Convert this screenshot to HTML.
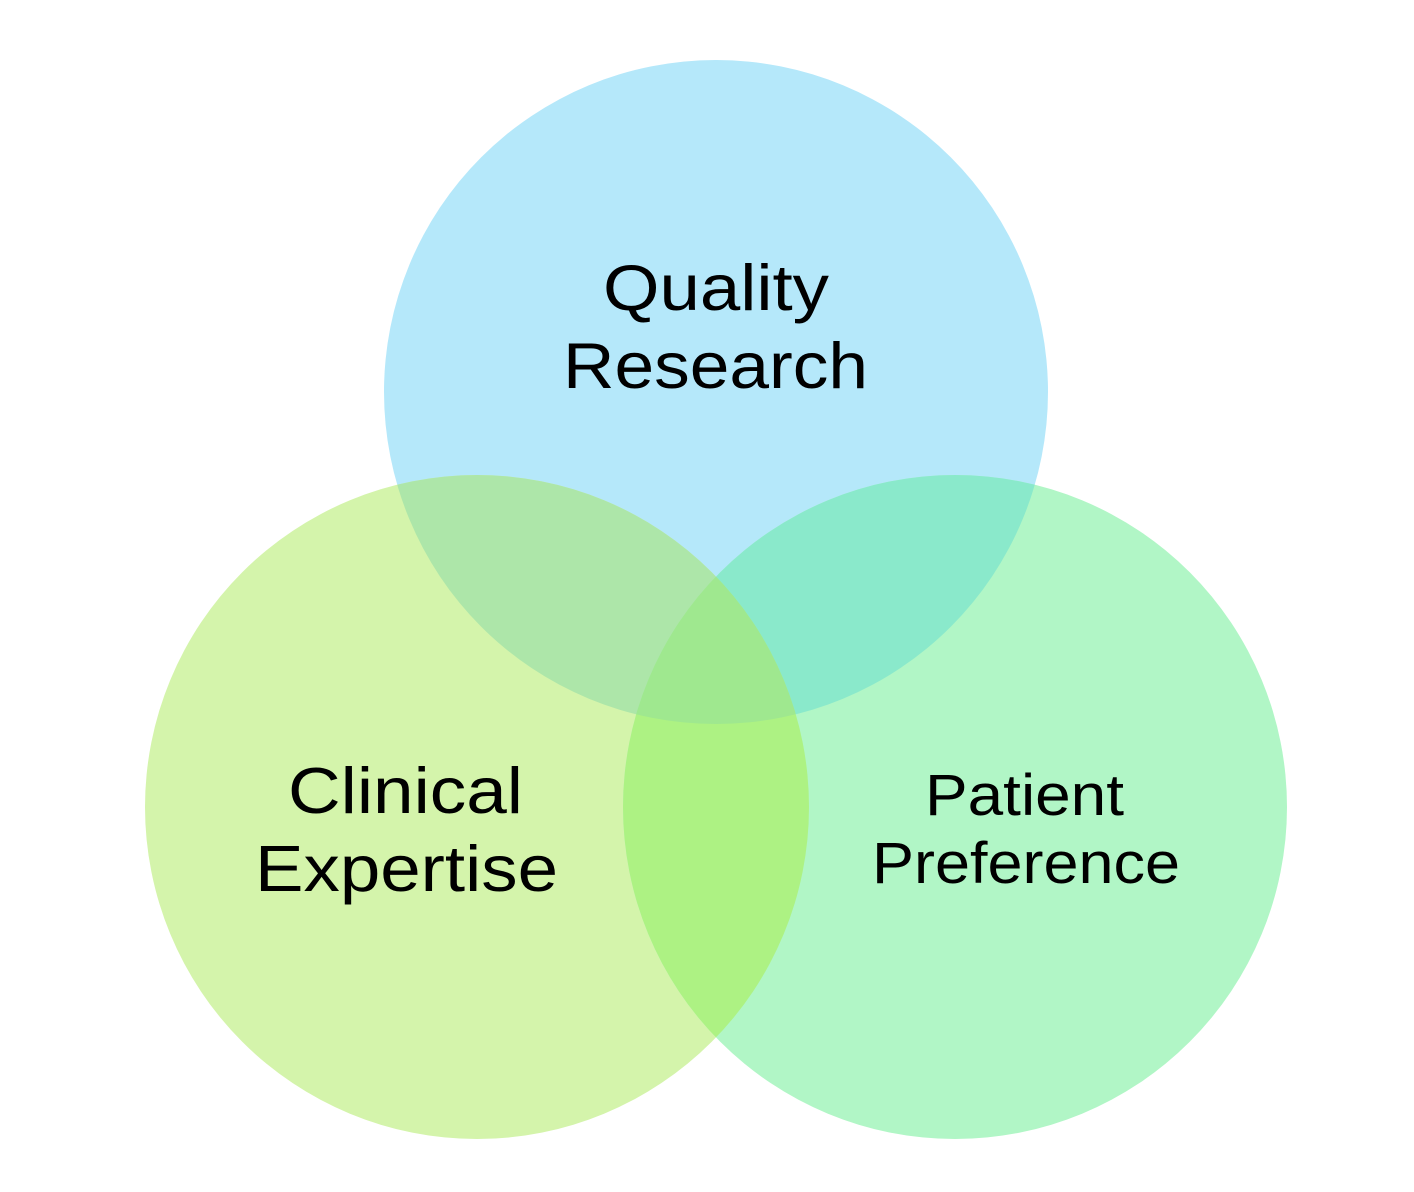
<!DOCTYPE html>
<html><head><style>html,body{margin:0;padding:0;background:#fff}</style></head>
<body>
<svg width="1414" height="1192" xmlns="http://www.w3.org/2000/svg" style="display:block">
<defs>
<clipPath id="ct"><circle cx="716" cy="392" r="332"/></clipPath>
<clipPath id="cl"><circle cx="477" cy="807" r="332"/></clipPath>
</defs>
<circle cx="716" cy="392" r="332" fill="#b5e8fa"/>
<circle cx="477" cy="807" r="332" fill="#d4f4ab"/>
<circle cx="955" cy="807" r="332" fill="#b1f6c6"/>
<g clip-path="url(#ct)">
<circle cx="477" cy="807" r="332" fill="#ade6a9"/>
<circle cx="955" cy="807" r="332" fill="#8ae9cb"/>
</g>
<g clip-path="url(#cl)">
<circle cx="955" cy="807" r="332" fill="#adf283"/>
<g clip-path="url(#ct)"><circle cx="955" cy="807" r="332" fill="#9fe88f"/></g>
</g>
<g font-family="Liberation Sans, Arial, sans-serif" fill="#000" text-anchor="middle" lengthAdjust="spacingAndGlyphs">
<text x="716" y="310" font-size="65" textLength="226" lengthAdjust="spacingAndGlyphs">Quality</text>
<text x="715.5" y="388" font-size="65" textLength="305" lengthAdjust="spacingAndGlyphs">Research</text>
<text x="405.5" y="813" font-size="65" textLength="235" lengthAdjust="spacingAndGlyphs">Clinical</text>
<text x="406.5" y="891" font-size="65" textLength="303" lengthAdjust="spacingAndGlyphs">Expertise</text>
<text x="1024.5" y="815" font-size="58" textLength="199" lengthAdjust="spacingAndGlyphs">Patient</text>
<text x="1026" y="883" font-size="58" textLength="308" lengthAdjust="spacingAndGlyphs">Preference</text>
</g>
</svg>
</body></html>
